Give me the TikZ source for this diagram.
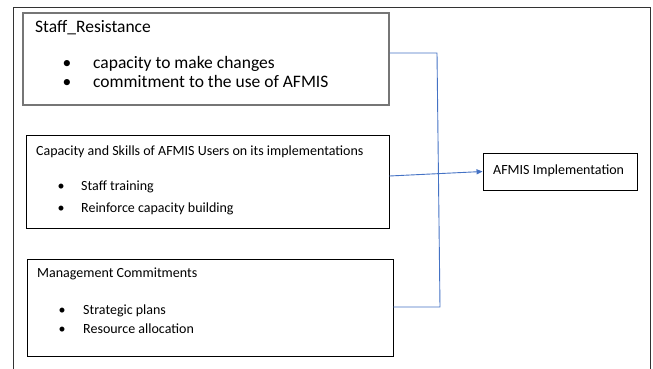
\documentclass[tikz,border=0pt]{standalone}
\usepackage{fontspec}
\setmainfont{Carlito}
\usetikzlibrary{arrows.meta}
\begin{document}
\begin{tikzpicture}[x=1pt,y=-1pt,
  box/.style={draw=black,line width=0.9pt,minimum width=#1,inner sep=0pt},
  txt/.style={anchor=base west,inner sep=0pt},
  bul/.style={anchor=base,inner sep=0pt},
  fa/.style={font=\fontsize{17.5}{20}\selectfont},
  fb/.style={font=\fontsize{14}{16}\selectfont},
  fc/.style={font=\fontsize{14}{16}\selectfont},
  conn/.style={draw={rgb,255:red,68;green,114;blue,196},line width=0.9pt}]
\useasboundingbox (0,0) rectangle (653,369);
% outer frame
\draw[line width=0.8pt,black!80] (13,369) -- (13,7) -- (650,7) -- (650,369);
% boxes
\node[box=366pt,draw={rgb,255:red,118;green,118;blue,118},line width=1.4pt,minimum height=92pt] (b1) at (206,59) {};
\node[box=363pt,minimum height=93pt] (b2) at (207.5,181.5) {};
\node[box=366pt,minimum height=97pt] (b3) at (210,307.5) {};
\node[box=154pt,minimum height=37pt] (af) at (560,171.5) {};
% box 1 text
\node[txt,fa] (t1) at (35,33) {Staff\_Resistance};
\node[bul,fa] (d11) at (67,68) {•};
\node[txt,fa] (t11) at (93,68) {capacity to make changes};
\node[bul,fa] (d12) at (67,88) {•};
\node[txt,fa] (t12) at (93,88) {commitment to the use of AFMIS};
% box 2 text
\node[txt,fb] (t2) at (36,155) {Capacity and Skills of AFMIS Users on its implementations};
\node[bul,fb] (d21) at (61,190) {•};
\node[txt,fb] (t21) at (81,190) {Staff training};
\node[bul,fb] (d22) at (61,212) {•};
\node[txt,fb] (t22) at (81,212) {Reinforce capacity building};
% box 3 text
\node[txt,fc] (t3) at (37,277) {Management Commitments};
\node[bul,fc] (d31) at (62,314) {•};
\node[txt,fc] (t31) at (83,314) {Strategic plans};
\node[bul,fc] (d32) at (62,333) {•};
\node[txt,fc] (t32) at (83,333) {Resource allocation};
% afmis text
\node[txt,fc] (ta) at (493,174) {AFMIS Implementation};
% connectors
\coordinate (j1) at (437,53);
\coordinate (j3) at (440,307);
\draw[conn] (j1 -| b1.east) -- (j1) -- (j3) -- (j3 -| b3.east);
\draw[conn,-{Triangle[length=6pt,width=5pt]}] (b2.east |- 0,176) -- (af.west);
\end{tikzpicture}
\end{document}
